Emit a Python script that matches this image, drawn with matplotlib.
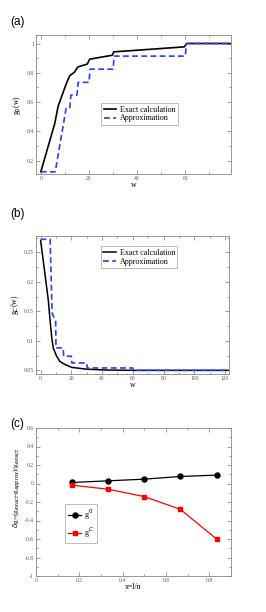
import matplotlib
matplotlib.use("Agg")
import matplotlib.pyplot as plt
from matplotlib.ticker import MultipleLocator, FuncFormatter

# ---- data panel (a) ----
a_exact_w = [0, 5.8, 7.2, 8.6, 10.6, 12, 14, 15.4, 19.3, 20.3, 24.4, 29.7, 30.3, 45, 59.6, 60.6, 79]
a_exact_g = [0.125, 0.455, 0.573, 0.636, 0.727, 0.78, 0.805, 0.84, 0.86, 0.893, 0.905, 0.92, 0.943, 0.96, 0.977, 1.0, 1.0]
a_appr_w = [0, 6, 10.5, 12, 12.5, 15, 15.5, 20, 20.5, 30, 30.5, 60, 60.5, 79]
a_appr_g = [0.125, 0.125, 0.557, 0.557, 0.648, 0.648, 0.735, 0.735, 0.825, 0.825, 0.914, 0.914, 1.0, 1.0]

# ---- data panel (b) ----
b_exact_w = [0, 2.5, 5.0, 6.1, 7.2, 8.2, 10.4, 12.6, 15.8, 20.2, 29.9, 43, 60, 122]
b_exact_g = [0.27, 0.22, 0.169, 0.136, 0.107, 0.088, 0.074, 0.065, 0.06, 0.055, 0.052, 0.0505, 0.05, 0.05]
b_appr_w = [0, 6.2, 7.5, 9.8, 10.0, 14.7, 15.0, 20.0, 20.3, 30.0, 30.3, 60.0, 60.3, 122]
b_appr_g = [0.272, 0.272, 0.147, 0.133, 0.088, 0.088, 0.074, 0.074, 0.0625, 0.0625, 0.054, 0.054, 0.05, 0.05]

# ---- data panel (c) ----
c_x = [1/6, 2/6, 3/6, 4/6, 5/6]
c_g0 = [0.011, 0.029, 0.047, 0.076, 0.091]
c_gC = [-0.018, -0.062, -0.142, -0.28, -0.6]

W, H = 266, 612
fig = plt.figure(figsize=(W/100, H/100), dpi=100)

serif = "Liberation Serif"
tick_fs = 4.0
lab_fs = 5.6
leg_fs = 5.8

def fmt(v, pos):
    return "%g" % round(v, 6)

def style(ax, xmaj, xmin, ymaj, ymin):
    ax.xaxis.set_major_locator(MultipleLocator(xmaj))
    ax.xaxis.set_minor_locator(MultipleLocator(xmin))
    ax.yaxis.set_major_locator(MultipleLocator(ymaj))
    ax.yaxis.set_minor_locator(MultipleLocator(ymin))
    ax.xaxis.set_major_formatter(FuncFormatter(fmt))
    ax.yaxis.set_major_formatter(FuncFormatter(fmt))
    ax.tick_params(which="both", direction="in", top=True, right=True,
                   color="#777777", width=0.5)
    ax.tick_params(which="major", length=3, labelsize=tick_fs, pad=1.5,
                   labelcolor="#555555")
    ax.tick_params(which="minor", length=1.6)
    for lab in ax.get_xticklabels() + ax.get_yticklabels():
        lab.set_fontfamily(serif)
    for sp in ax.spines.values():
        sp.set_color("#888888")
        sp.set_linewidth(0.6)

def box(x0, y0, x1, y1):
    return [x0/W, 1 - y1/H, (x1-x0)/W, (y1-y0)/H]

# ---- (a) ----
axa = fig.add_axes(box(36, 35, 231, 174))
axa.plot(a_exact_w, a_exact_g, color="black", lw=1.2, label="Exact calculation")
axa.plot(a_appr_w, a_appr_g, color="#2b3bff", lw=1.2, ls=(0, (3.5, 2)), label="Approximation")
axa.set_xlim(-2, 79)
axa.set_ylim(0.11, 1.058)
style(axa, 20, 10, 0.2, 0.1)
axa.set_xlabel("w", fontsize=lab_fs, family=serif, labelpad=0)
axa.set_ylabel(r"g$_0$(w)", fontsize=lab_fs, family=serif)
axa.yaxis.set_label_coords(-0.065, 0.5)
leg = axa.legend(loc="center", bbox_to_anchor=(0.53, 0.432),
                 prop={"family": serif, "size": leg_fs}, frameon=True, fancybox=False,
                 edgecolor="#888888", handlelength=1.5, handletextpad=0.5,
                 borderpad=0.3, labelspacing=0.1, borderaxespad=0)
leg.get_frame().set_linewidth(0.5)
fig.text(10/W, 1 - 22/H, "(a)", fontsize=8.5, family="Liberation Sans", va="center")

# ---- (b) ----
axb = fig.add_axes(box(36, 236, 229, 374))
axb.plot(b_exact_w, b_exact_g, color="black", lw=1.1, label="Exact calculation")
axb.plot(b_appr_w, b_appr_g, color="#2b3bff", lw=1.2, ls=(0, (3.5, 2)), label="Approximation")
axb.set_xlim(-3, 122.6)
axb.set_ylim(0.0438, 0.2776)
style(axb, 20, 10, 0.05, 0.025)
axb.set_xlabel("w", fontsize=lab_fs, family=serif, labelpad=0)
axb.set_ylabel(r"g$_C$(w)", fontsize=lab_fs, family=serif)
axb.yaxis.set_label_coords(-0.08, 0.5)
leg = axb.legend(loc="upper center", bbox_to_anchor=(0.535, 0.925),
                 prop={"family": serif, "size": leg_fs}, frameon=True, fancybox=False,
                 edgecolor="#888888", handlelength=1.5, handletextpad=0.5,
                 borderpad=0.3, labelspacing=0.1, borderaxespad=0)
leg.get_frame().set_linewidth(0.5)
fig.text(10/W, 1 - 214/H, "(b)", fontsize=8.5, family="Liberation Sans", va="center")

# ---- (c) ----
axc = fig.add_axes(box(36, 428, 231, 576))
axc.plot(c_x, c_g0, color="black", lw=0.9, marker="o", ms=3.6, label=r"g$^0$")
axc.plot(c_x, c_gC, color="red", lw=0.9, marker="s", ms=3.4, label=r"g$^C$")
axc.set_xlim(0, 0.9)
axc.set_ylim(-1, 0.6)
style(axc, 0.2, 0.1, 0.2, 0.1)
axc.set_xlabel("x=l/n", fontsize=lab_fs, family=serif, labelpad=0)
axc.set_ylabel(r"$\delta$g=(g$_{exact}$-g$_{approx}$)/g$_{exact}$",
               fontsize=5.2, family=serif)
axc.yaxis.set_label_coords(-0.068, 0.6)
leg = axc.legend(loc="upper left", bbox_to_anchor=(0.149, 0.486),
                 prop={"family": serif, "size": leg_fs}, frameon=True, fancybox=False,
                 edgecolor="#888888", handlelength=1.6, handletextpad=0.3,
                 borderpad=0.4, labelspacing=0.5, borderaxespad=0)
leg.get_frame().set_linewidth(0.5)
fig.text(10/W, 1 - 424/H, "(c)", fontsize=8.5, family="Liberation Sans", va="center")

fig.savefig("out.png", dpi=100)
